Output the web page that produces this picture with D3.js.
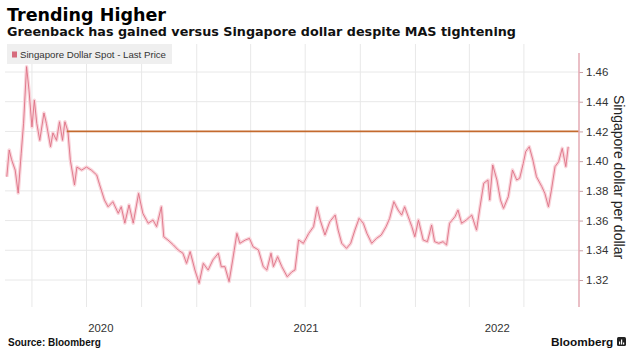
<!DOCTYPE html>
<html>
<head>
<meta charset="utf-8">
<script src="https://cdn.jsdelivr.net/npm/d3@7"></script>
<style>
  body { margin: 0; background: #fff; }
  svg { display: block; }
</style>
</head>
<body>
<div id="chart"></div>
<script>
// USD/SGD spot (roughly weekly turning points)
const dates = [
  "2020-02-19","2020-02-23","2020-02-27","2020-03-04","2020-03-09","2020-03-14","2020-03-18","2020-03-23",
  "2020-03-27","2020-04-01","2020-04-05","2020-04-09","2020-04-14","2020-04-21","2020-04-25","2020-05-02",
  "2020-05-06","2020-05-12","2020-05-17","2020-05-22","2020-05-26","2020-05-31","2020-06-04","2020-06-11",
  "2020-06-15","2020-06-23","2020-07-01","2020-07-09","2020-07-18","2020-07-23","2020-07-31","2020-08-06",
  "2020-08-14","2020-08-23","2020-08-28","2020-09-03","2020-09-10","2020-09-17","2020-09-26","2020-10-03",
  "2020-10-12","2020-10-20","2020-10-26","2020-11-03","2020-11-07","2020-11-14","2020-11-23","2020-12-01",
  "2020-12-09","2020-12-15","2020-12-21","2020-12-29","2021-01-05","2021-01-12","2021-01-20","2021-01-28",
  "2021-02-06","2021-02-11","2021-02-17","2021-02-24","2021-03-02","2021-03-09","2021-03-14","2021-03-23",
  "2021-03-30","2021-04-05","2021-04-14","2021-04-22","2021-04-28","2021-05-05","2021-05-09","2021-05-16",
  "2021-05-23","2021-06-01","2021-06-09","2021-06-14","2021-06-20","2021-06-28","2021-07-07","2021-07-15",
  "2021-07-21","2021-07-26","2021-08-03","2021-08-11","2021-08-20","2021-08-25","2021-08-31","2021-09-08",
  "2021-09-15","2021-09-22","2021-09-29","2021-10-06","2021-10-12","2021-10-20","2021-10-28","2021-11-05",
  "2021-11-13","2021-11-19","2021-11-26","2021-12-03","2021-12-09","2021-12-14","2021-12-20","2021-12-26",
  "2021-12-31","2022-01-06","2022-01-14","2022-01-21","2022-01-28","2022-02-02","2022-02-09","2022-02-16",
  "2022-02-22","2022-02-27","2022-03-08","2022-03-13","2022-03-19","2022-03-27","2022-04-05","2022-04-13",
  "2022-04-18","2022-04-25","2022-05-02","2022-05-05","2022-05-10","2022-05-17","2022-05-23","2022-05-28",
  "2022-06-05","2022-06-12","2022-06-19","2022-06-24","2022-06-30","2022-07-04","2022-07-10","2022-07-16",
  "2022-07-22","2022-07-31","2022-08-05","2022-08-11","2022-08-16","2022-08-22","2022-08-28","2022-09-03",
  "2022-09-09","2022-09-13"
];

const prices = [
  1.3895,1.4075,1.401,1.394,1.3785,1.405,1.4255,1.4636,
  1.448,1.423,1.441,1.4255,1.414,1.4324,1.4255,1.4097,
  1.419,1.414,1.4265,1.414,1.4265,1.420,1.4008,1.384,
  1.396,1.394,1.396,1.394,1.3907,1.384,1.3738,1.3693,
  1.3727,1.3649,1.3693,1.3583,1.3705,1.3583,1.3783,1.3649,
  1.3582,1.3604,1.3559,1.3693,1.3491,1.3469,1.3436,1.3402,
  1.338,1.3312,1.3391,1.3267,1.3178,1.3312,1.3267,1.3335,
  1.338,1.3289,1.329,1.3189,1.3335,1.3514,1.3447,1.3469,
  1.348,1.3424,1.3402,1.329,1.3267,1.338,1.329,1.3357,
  1.329,1.3222,1.3256,1.3267,1.3469,1.3447,1.3514,1.3559,
  1.369,1.3604,1.3503,1.3592,1.3637,1.3536,1.3447,1.3413,
  1.3447,1.3536,1.3615,1.3582,1.3514,1.3447,1.348,1.3503,
  1.3559,1.3615,1.3727,1.3671,1.3637,1.3693,1.3626,1.3559,
  1.3491,1.3604,1.3469,1.3458,1.357,1.3458,1.3447,1.3458,
  1.3436,1.3582,1.3626,1.3671,1.3582,1.3604,1.3637,1.3536,
  1.3671,1.3851,1.3873,1.3738,1.3974,1.3873,1.3738,1.3682,
  1.3761,1.394,1.3873,1.3885,1.3985,1.4064,1.4097,1.4008,
  1.3895,1.3828,1.3783,1.3693,1.3806,1.3963,1.3996,1.4086,
  1.3963,1.4097
];

const yTicks = [1.32, 1.34, 1.36, 1.38, 1.40, 1.42, 1.44, 1.46];
const years = [2020, 2021, 2022];
const refLevel = 1.42;
const refStart = "2020-05-29";
const startDate = "2020-02-16";
const endDate = "2022-10-01";

const parse = d3.timeParse("%Y-%m-%d");
const data = dates.map((d, i) => ({ date: parse(d), value: prices[i] }));

const size = { width: 636, height: 352 };
const plot = { left: 5, right: 579, top: 44, bottom: 307 };

const svg = d3
  .select("#chart")
  .append("svg")
  .attr("width", size.width)
  .attr("height", size.height)
  .style("background", "#fff");

const x = d3
  .scaleTime()
  .domain([parse(startDate), parse(endDate)])
  .range([plot.left, plot.right]);

const y = d3.scaleLinear().domain([1.32, 1.46]).range([280, 72]);

// title block
svg
  .append("text")
  .attr("x", 7)
  .attr("y", 21)
  .attr("textLength", 159)
  .attr("lengthAdjust", "spacingAndGlyphs")
  .style("font-family", "DejaVu Sans")
  .style("font-weight", "bold")
  .style("font-size", "18px")
  .attr("fill", "#000")
  .text("Trending Higher");

svg
  .append("text")
  .attr("x", 7)
  .attr("y", 36)
  .attr("textLength", 509)
  .attr("lengthAdjust", "spacingAndGlyphs")
  .style("font-family", "DejaVu Sans")
  .style("font-weight", "bold")
  .style("font-size", "12.8px")
  .attr("fill", "#111")
  .text("Greenback has gained versus Singapore dollar despite MAS tightening");

// grid
const grid = svg.append("g");
grid
  .selectAll("line.h")
  .data(yTicks)
  .join("line")
  .attr("class", "h")
  .attr("x1", plot.left)
  .attr("x2", plot.right)
  .attr("y1", (d) => y(d))
  .attr("y2", (d) => y(d))
  .attr("stroke", "#e8e8e8")
  .attr("stroke-width", 1);

const quarters = x
  .ticks(d3.timeMonth.every(3))
  .filter((d) => x(d) < plot.right - 2);

grid
  .selectAll("line.v")
  .data(quarters)
  .join("line")
  .attr("class", "v")
  .attr("x1", (d) => x(d))
  .attr("x2", (d) => x(d))
  .attr("y1", plot.top)
  .attr("y2", plot.bottom)
  .attr("stroke", "#e8e8e8")
  .attr("stroke-width", 1);

// legend
const legend = svg.append("g");
legend
  .append("rect")
  .attr("x", 7)
  .attr("y", 44)
  .attr("width", 165)
  .attr("height", 20)
  .attr("fill", "#efefef");
legend
  .append("rect")
  .attr("x", 12)
  .attr("y", 51.5)
  .attr("width", 5)
  .attr("height", 6)
  .attr("fill", "#d66b7c");
legend
  .append("text")
  .attr("x", 20)
  .attr("y", 58)
  .attr("textLength", 146)
  .attr("lengthAdjust", "spacingAndGlyphs")
  .style("font-family", "Liberation Sans")
  .style("font-size", "9.8px")
  .attr("fill", "#333")
  .text("Singapore Dollar Spot - Last Price");

// price line: soft halo + core
const line = d3
  .line()
  .x((d) => x(d.date))
  .y((d) => y(d.value));

svg
  .append("path")
  .datum(data)
  .attr("d", line)
  .attr("fill", "none")
  .attr("stroke", "#f9d5db")
  .attr("stroke-width", 3.5)
  .attr("stroke-linejoin", "round");

svg
  .append("path")
  .datum(data)
  .attr("d", line)
  .attr("fill", "none")
  .attr("stroke", "#de7084")
  .attr("stroke-width", 0.9)
  .attr("stroke-linejoin", "round");

// 1.42 level
svg
  .append("line")
  .attr("x1", x(parse(refStart)))
  .attr("x2", plot.right)
  .attr("y1", y(refLevel))
  .attr("y2", y(refLevel))
  .attr("stroke", "#c46a2e")
  .attr("stroke-width", 1.8);

// right axis
const axis = svg
  .append("g")
  .attr("transform", `translate(${plot.right},0)`)
  .call(
    d3
      .axisRight(y)
      .tickValues(yTicks)
      .tickSize(4)
      .tickPadding(3)
      .tickFormat(d3.format(".2f"))
  );
axis.select(".domain").remove();
axis.selectAll(".tick line").attr("stroke", "#c9a0a6");
axis
  .selectAll(".tick text")
  .style("font-family", "Liberation Sans")
  .style("font-size", "11.5px")
  .attr("fill", "#333");

svg
  .append("line")
  .attr("x1", plot.right)
  .attr("x2", plot.right)
  .attr("y1", 53)
  .attr("y2", plot.bottom)
  .attr("stroke", "#e3aab3")
  .attr("stroke-width", 1.5);

svg
  .append("text")
  .attr("transform", `translate(614,177) rotate(90)`)
  .attr("text-anchor", "middle")
  .style("font-family", "Liberation Sans")
  .style("font-size", "14px")
  .attr("fill", "#222")
  .text("Singapore dollar per dollar");

// year labels centred on the visible part of each year
const [d0, d1] = x.domain();
svg
  .selectAll("text.year")
  .data(years)
  .join("text")
  .attr("class", "year")
  .attr("x", (yr) => {
    const a = d3.max([new Date(yr, 0, 1), d0]);
    const b = d3.min([new Date(yr + 1, 0, 1), d1]);
    return (x(a) + x(b)) / 2;
  })
  .attr("y", 332)
  .attr("text-anchor", "middle")
  .style("font-family", "Liberation Sans")
  .style("font-size", "11.3px")
  .attr("fill", "#333")
  .text((d) => d);

// footer
svg
  .append("text")
  .attr("x", 8)
  .attr("y", 346)
  .style("font-family", "Liberation Sans")
  .style("font-weight", "bold")
  .style("font-size", "10px")
  .attr("fill", "#111")
  .text("Source: Bloomberg");

svg
  .append("text")
  .attr("x", 551)
  .attr("y", 346)
  .style("font-family", "Liberation Sans")
  .style("font-weight", "bold")
  .style("font-size", "11.8px")
  .attr("fill", "#111")
  .text("Bloomberg");

const logo = svg.append("g").attr("transform", "translate(617,337)");
logo
  .append("rect")
  .attr("width", 9)
  .attr("height", 9)
  .attr("rx", 1.5)
  .attr("fill", "#222");
logo
  .selectAll("rect.bar")
  .data([3, 5, 2])
  .join("rect")
  .attr("class", "bar")
  .attr("x", (d, i) => 2 + i * 2)
  .attr("y", (d) => 7.5 - d)
  .attr("width", 1.2)
  .attr("height", (d) => d)
  .attr("fill", "#fff");
</script>
</body>
</html>
